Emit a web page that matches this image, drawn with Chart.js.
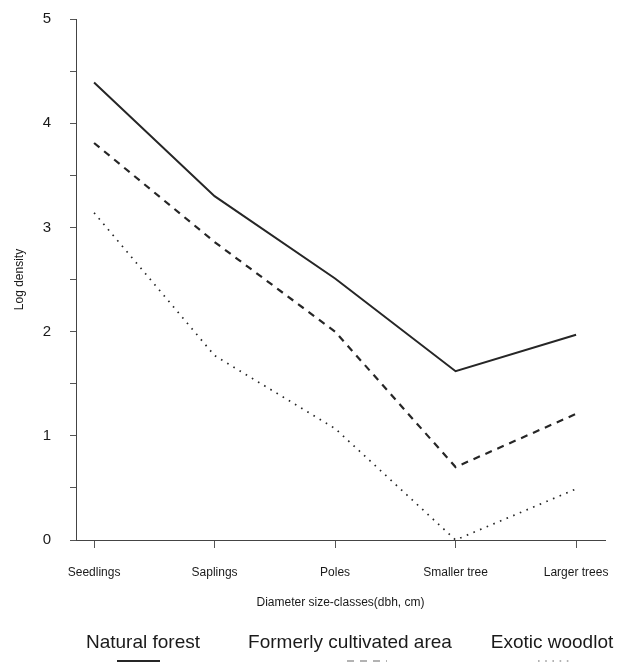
<!DOCTYPE html>
<html>
<head>
<meta charset="utf-8">
<script src="https://cdn.jsdelivr.net/npm/chart.js@4"></script>
<style>
  html, body { margin: 0; padding: 0; background: #fff; }
  #wrap { width: 617px; height: 664px; position: relative; }
</style>
</head>
<body>
<div id="wrap"><canvas id="c"></canvas></div>
<script>
// categorias do eixo x
const sizeClasses = ['Seedlings', 'Saplings', 'Poles', 'Smaller tree', 'Larger trees']

// log density por tipo de uso do solo
const naturalForest = [4.39, 3.30, 2.51, 1.62, 1.97]
const formerlyCultivated = [3.81, 2.86, 2.00, 0.70, 1.21]
const exoticWoodlot = [3.14, 1.77, 1.07, 0.00, 0.49]

const seriesNames = ['Natural forest', 'Formerly cultivated area', 'Exotic woodlot']

const ink = '#262626'
const font = "'Liberation Sans', Arial, sans-serif"

const toPoints = vals => vals.map((v, i) => ({ x: i, y: v }))

// legenda desenhada à mão: texto em cima, amostra da linha embaixo
const legendBelow = {
  id: 'legendBelow',
  afterDraw(chart) {
    const ctx = chart.ctx
    const centers = [143, 350, 552]
    const samples = [[117, 160], [347, 387], [538, 573]]
    ctx.save()
    ctx.font = '19px ' + font
    ctx.fillStyle = '#1a1a1a'
    ctx.textAlign = 'center'
    ctx.textBaseline = 'alphabetic'
    chart.data.datasets.forEach((ds, i) => {
      ctx.fillText(ds.label, centers[i], 648)
      ctx.beginPath()
      ctx.strokeStyle = i === 0 ? ink : '#9a9a9a'
      ctx.lineWidth = i === 0 ? 2 : 1.5
      ctx.setLineDash(ds.borderDash || [])
      ctx.moveTo(samples[i][0], 661)
      ctx.lineTo(samples[i][1], 661)
      ctx.stroke()
    })
    ctx.restore()
  }
}

new Chart(document.getElementById('c'), {
  type: 'line',
  data: {
    datasets: [
      {
        label: seriesNames[0],
        data: toPoints(naturalForest),
        borderColor: ink,
        borderWidth: 2,
        pointRadius: 0
      },
      {
        label: seriesNames[1],
        data: toPoints(formerlyCultivated),
        borderColor: ink,
        borderWidth: 2.2,
        borderDash: [7, 6],
        pointRadius: 0
      },
      {
        label: seriesNames[2],
        data: toPoints(exoticWoodlot),
        borderColor: ink,
        borderWidth: 1.7,
        borderDash: [1.6, 5.6],
        pointRadius: 0
      }
    ]
  },
  options: {
    responsive: true,
    maintainAspectRatio: false,
    animation: false,
    layout: { padding: { left: 8, right: 12, top: 19, bottom: 50 } },
    plugins: {
      legend: { display: false },
      tooltip: { enabled: false }
    },
    scales: {
      x: {
        type: 'linear',
        min: -0.15,
        max: 4.24,
        afterFit: axis => {
          axis.height = 74
          axis.paddingLeft = 0
          axis.paddingRight = 0
        },
        grid: { drawOnChartArea: false, tickLength: 8, tickColor: '#555' },
        border: { color: '#444', width: 1 },
        ticks: {
          stepSize: 1,
          autoSkip: false,
          maxRotation: 0,
          color: '#1a1a1a',
          font: { family: font, size: 12 },
          padding: 17,
          callback: v => Number.isInteger(v) ? sizeClasses[v] : ''
        },
        afterBuildTicks: axis => { axis.ticks = sizeClasses.map((_, i) => ({ value: i })) },
        title: {
          display: true,
          text: 'Diameter size-classes(dbh, cm)',
          color: '#1a1a1a',
          font: { family: font, size: 12 },
          padding: { top: 6 }
        }
      },
      y: {
        min: 0,
        max: 5,
        afterFit: axis => {
          axis.width = 68
          axis.paddingTop = 0
          axis.paddingBottom = 0
        },
        grid: { drawOnChartArea: false, tickLength: 6, tickColor: '#555' },
        border: { color: '#444', width: 1 },
        ticks: {
          stepSize: 0.5,
          color: '#1a1a1a',
          font: { family: font, size: 15 },
          padding: 19,
          callback: v => Number.isInteger(v) ? v : ''
        },
        title: {
          display: true,
          text: 'Log density',
          color: '#1a1a1a',
          font: { family: font, size: 12 },
          padding: { bottom: 0 }
        }
      }
    }
  },
  plugins: [legendBelow]
})
</script>
</body>
</html>
